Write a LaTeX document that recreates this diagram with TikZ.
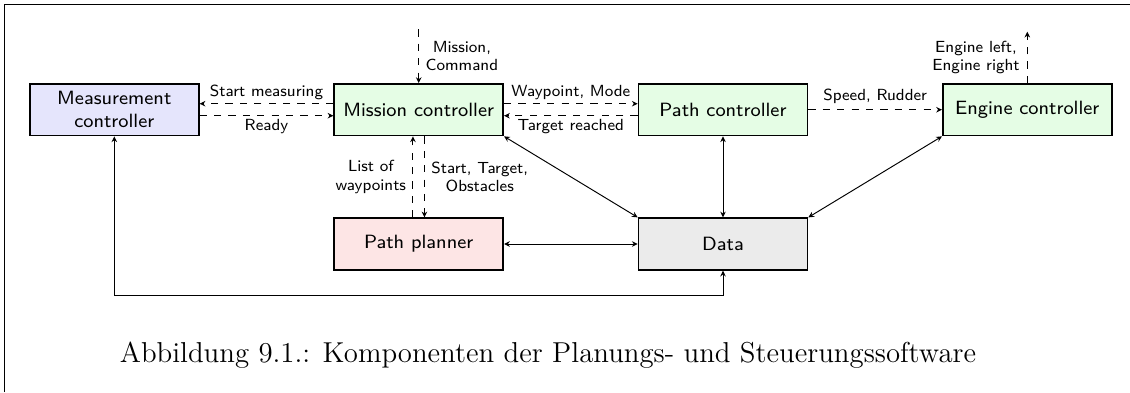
\documentclass[tikz,border=0pt]{standalone}
\usepackage{fontspec}
\usetikzlibrary{arrows.meta}
\definecolor{measfill}{RGB}{229,229,252}
\definecolor{ctrlfill}{RGB}{229,253,229}
\definecolor{planfill}{RGB}{253,229,229}
\definecolor{datafill}{RGB}{235,235,235}
\begin{document}
\begin{tikzpicture}[x=0.41667pt,y=-0.41667pt,
  box/.style={draw, line width=0.7pt, minimum width=70.4pt, minimum height=21.5pt,
    inner sep=1pt, align=center, font=\fontsize{8}{9.5}\selectfont\sffamily},
  tipa/.tip={Stealth[length=2.4pt,width=2.3pt]},
  conn/.style={line width=0.4pt, tipa-tipa},
  flow/.style={line width=0.4pt, dashed, -tipa},
  lbl/.style={font=\fontsize{6.7}{7.6}\selectfont\sffamily, inner sep=1.5pt, align=center}]
\useasboundingbox (0,0) rectangle (1130,392);
\draw[line width=0.6pt] (4.5,392) -- (4.5,4.5) -- (1130,4.5);

\node[box, fill=measfill] (meas) at (114.3,109.7) {Measurement\\controller};
\node[box, fill=ctrlfill] (mission) at (418.7,109.7) {Mission controller};
\node[box, fill=ctrlfill] (path) at (723,109.7) {Path controller};
\node[box, fill=ctrlfill] (engine) at (1027.3,109.7) {Engine controller};
\node[box, fill=planfill] (planner) at (418.7,244) {Path planner};
\node[box, fill=datafill] (data) at (723,244) {Data};

\draw[flow] ([yshift=2.5pt]mission.west) -- node[lbl,above]{Start measuring} ([yshift=2.5pt]meas.east);
\draw[flow] ([yshift=-2.5pt]meas.east) -- node[lbl,below]{Ready} ([yshift=-2.5pt]mission.west);
\draw[flow] ([yshift=2.5pt]mission.east) -- node[lbl,above]{Waypoint, Mode} ([yshift=2.5pt]path.west);
\draw[flow] ([yshift=-2.5pt]path.west) -- node[lbl,below]{Target reached} ([yshift=-2.5pt]mission.east);
\draw[flow] (path.east) -- node[lbl,above=1pt]{Speed, Rudder} (engine.west);

\coordinate (cmdin) at (418.7,29.3);
\draw[flow] (cmdin) -- node[lbl,right=1.2pt]{Mission,\\Command} (mission.north);
\coordinate (engout) at (1027.3,31.7);
\draw[flow] (engine.north) -- node[lbl,left=1.5pt]{Engine left,\\Engine right} (engout);

\draw[flow] ([xshift=-2.4pt]planner.north) -- node[lbl,left=1.2pt]{List of\\waypoints} ([xshift=-2.4pt]mission.south);
\draw[flow] ([xshift=2.4pt]mission.south) -- node[lbl,right=1.2pt]{Start, Target,\\Obstacles} ([xshift=2.4pt]planner.north);

\draw[conn] (mission.south east) -- (data.north west);
\draw[conn] (path.south) -- (data.north);
\draw[conn] (engine.south west) -- (data.north east);
\draw[conn] (planner.east) -- (data.west);
\coordinate (bus) at (0,295.5);
\draw[conn] (meas.south) -- (meas.south |- bus) -| (data.south);

\node[font=\fontsize{12}{14}\selectfont, inner sep=0pt] (caption) at (548,355)
  {Abbildung 9.1.: Komponenten der Planungs- und Steuerungssoftware};
\end{tikzpicture}
\end{document}
